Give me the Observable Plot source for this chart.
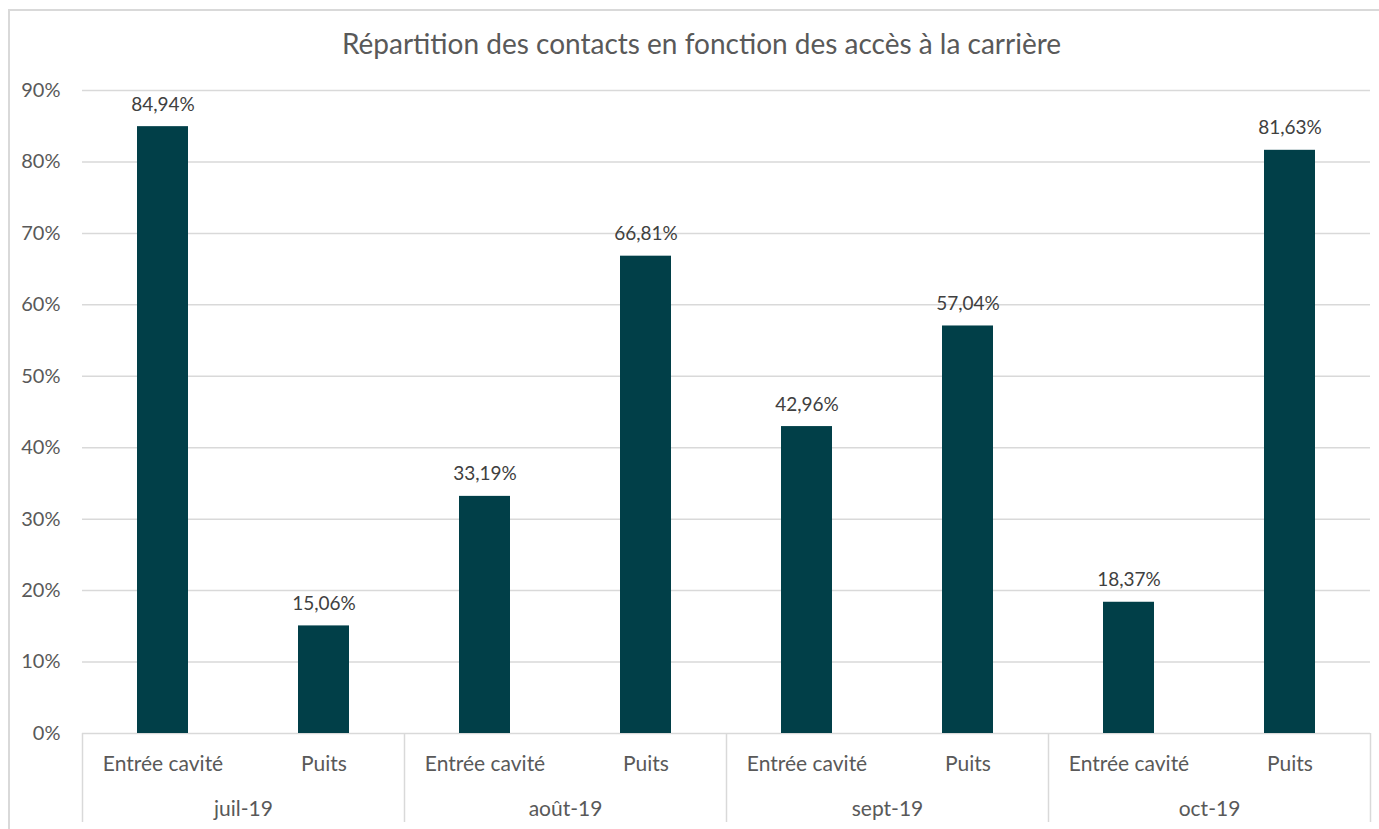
<!DOCTYPE html>
<html>
<head>
<meta charset="utf-8">
<script src="https://cdn.jsdelivr.net/npm/d3@7"></script>
<script src="https://cdn.jsdelivr.net/npm/@observablehq/plot@0.6"></script>
<style>
  html, body { margin: 0; padding: 0; background: #fff; }
  #wrap { position: relative; width: 1379px; height: 829px; overflow: hidden; }
  #border { position: absolute; left: 8px; top: 9px; width: 1400px; height: 900px;
            border-left: 2px solid #d9d9d9; border-top: 2px solid #d9d9d9; pointer-events: none; }
  #chart { position: absolute; left: 0; top: 0; }
</style>
</head>
<body>
<div id="wrap"><div id="chart"></div><div id="border"></div></div>
<script>
const title = "Répartition des contacts en fonction des accès à la carrière";
const months = ["juil-19", "août-19", "sept-19", "oct-19"];
const types = ["Entrée cavité", "Puits"];
const entreeCavite = [84.94, 33.19, 42.96, 18.37];
const puits = [15.06, 66.81, 57.04, 81.63];
const yTicks = [0, 10, 20, 30, 40, 50, 60, 70, 80, 90];

const rows = [];
months.forEach((m, mi) => {
  rows.push({month: m, type: types[0], i: mi * 2, value: entreeCavite[mi]});
  rows.push({month: m, type: types[1], i: mi * 2 + 1, value: puits[mi]});
});
const fmt = v => v.toFixed(2).replace(".", ",") + "%";

const grid = "#d9d9d9";
const textCol = "#595959";
const barCol = "#013f48";
const font = "Lato, 'Open Sans', sans-serif";

const chart = Plot.plot({
  width: 1379,
  height: 829,
  marginTop: 90,
  marginBottom: 96,
  marginLeft: 82,
  marginRight: 9,
  style: {fontFamily: font, fontSize: "19px", color: textCol, background: "transparent"},
  x: {type: "linear", domain: [0, months.length * 2], axis: null, label: null},
  y: {domain: [0, 90], axis: null, label: null},
  marks: [
    Plot.ruleY(yTicks, {stroke: grid, strokeWidth: 1.5}),
    Plot.axisY({ticks: yTicks, tickSize: 0, tickPadding: 22, tickFormat: d => d + "%",
                label: null, fontSize: 20, fill: textCol}),
    Plot.rectY(rows, {x: "i", interval: 1, y: "value", fill: barCol,
                      insetLeft: 55, insetRight: 55}),
    Plot.text(rows, {x: d => d.i + 0.5, y: "value", text: d => fmt(d.value),
                     lineAnchor: "bottom", dy: -16, fontSize: 19, fill: "#404040"}),
    Plot.axisX({ticks: d3.range(0, months.length * 2 + 1, 2), tickSize: 89, tickFormat: () => "",
                label: null, stroke: grid, strokeWidth: 1.5, strokeOpacity: 1}),
    Plot.axisX({ticks: rows.map(d => d.i + 0.5), tickSize: 0, tickPadding: 23, label: null,
                tickFormat: t => rows.find(r => r.i + 0.5 === t).type, fontSize: 21, fill: textCol}),
    Plot.axisX({ticks: months.map((m, mi) => mi * 2 + 1), tickSize: 0, tickPadding: 68, label: null,
                tickFormat: t => months[(t - 1) / 2], fontSize: 21, fill: textCol}),
    Plot.text([title], {frameAnchor: "top", dy: -56, dx: -25, fontSize: 28, fill: textCol})
  ]
});
document.getElementById("chart").appendChild(chart);
</script>
</body>
</html>
